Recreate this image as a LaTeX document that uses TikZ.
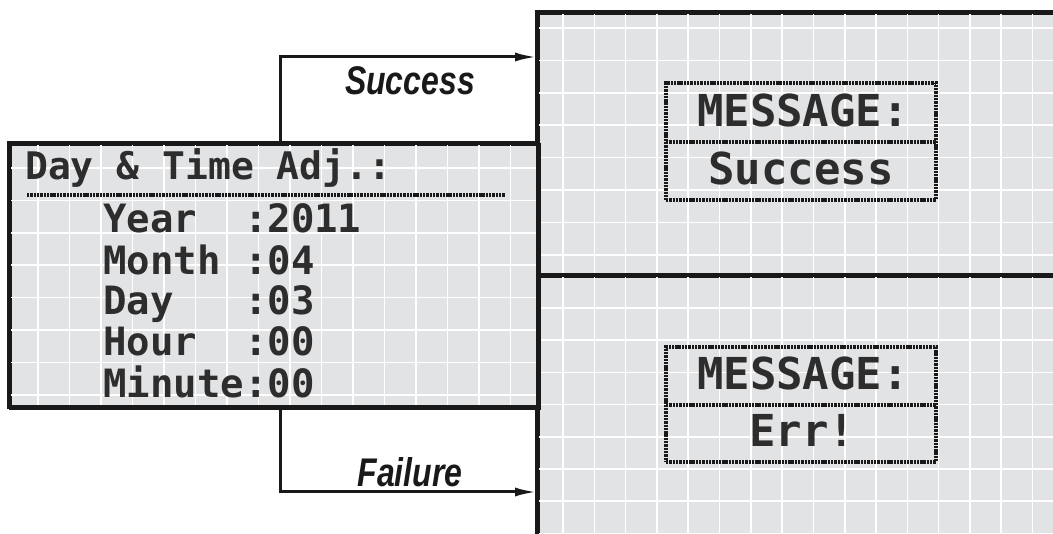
\documentclass[tikz,border=0pt]{standalone}
\usepackage{fontspec}
\usetikzlibrary{arrows.meta}
\newfontfamily\lcdfont{DejaVu Sans Mono}
\newfontfamily\labelfont[FakeStretch=0.8]{Liberation Sans}
\definecolor{lcdbg}{RGB}{226,227,229}
\definecolor{lcdtxt}{RGB}{45,45,45}
\definecolor{ink}{RGB}{25,25,25}
\tikzset{
  panel/.style={draw=ink, line width=3.2pt, fill=lcdbg, inner sep=0pt},
  gridline/.style={white, line width=1.6pt},
  dotline/.style={draw=ink, line width=3.4pt, dash pattern=on 2.4pt off 0.9pt},
  msgbox/.style={dotline, inner sep=0pt, minimum width=270pt},
  lcd/.style={inner sep=0pt, text=lcdtxt, font=\lcdfont\bfseries\fontsize{39}{40}\selectfont},
  lcdbig/.style={inner sep=0pt, text=lcdtxt, font=\lcdfont\bfseries\fontsize{44}{46}\selectfont},
  conn/.style={draw=ink, line width=3pt, -{Latex[length=22pt,width=9pt]}},
  lbl/.style={inner sep=0pt, text=ink, font=\labelfont\bfseries\itshape\fontsize{40}{40}\selectfont}
}
\begin{document}
\begin{tikzpicture}[x=1pt,y=-1pt]
\useasboundingbox (0,0) rectangle (1053,534);
\clip (0,0) rectangle (1053,534);
\fill[white] (0,0) rectangle (1053,534);
% right panels
\node[panel, minimum width=530pt, minimum height=263pt, anchor=north west] (succ) at (537,12) {};
\node[panel, minimum width=530pt, minimum height=280pt, anchor=north west] (fail) at (537,275) {};
\begin{scope}
  \clip (538.5,13.5) rectangle (1060,273.5);
  \foreach \k in {0,...,15} \draw[gridline] (563+31.3*\k,0) -- (563+31.3*\k,280);
  \foreach \k in {0,...,7} \draw[gridline] (530,28+32.4*\k) -- (1060,28+32.4*\k);
\end{scope}
\begin{scope}
  \clip (538.5,276.5) rectangle (1060,540);
  \foreach \k in {0,...,15} \draw[gridline] (563+31.3*\k,270) -- (563+31.3*\k,540);
  \foreach \k in {0,...,7} \draw[gridline] (530,308+32.2*\k) -- (1060,308+32.2*\k);
\end{scope}
\draw[ink, line width=3.2pt] (537,12) -- (1060,12);
\draw[ink, line width=3.2pt] (537,275) -- (1060,275);
\draw[ink, line width=3.2pt] (537,10) -- (537,540);
% left box
\node[panel, minimum width=529pt, minimum height=264pt, anchor=north west] (setup) at (9,143) {};
\begin{scope}
  \clip (10.5,144.5) rectangle (536.5,405.5);
  \foreach \k in {0,...,15} \draw[gridline] (38+31.5*\k,140) -- (38+31.5*\k,410);
  \foreach \k in {0,...,7} \draw[gridline] (5,168+32.4*\k) -- (540,168+32.4*\k);
\end{scope}
\draw[ink, line width=3.2pt] (9,143) rectangle (538,407);
\node[lcd, anchor=base west, font=\lcdfont\bfseries\fontsize{38}{40}\selectfont] (title) at (25,180) {Day \& Time Adj.:};
\draw[dotline] (27,195) -- (505,195);
\node[lcd, anchor=base west] (year) at (103,233) {Year~~:2011};
\node[lcd, anchor=base west] (month) at (103,275) {Month~:04};
\node[lcd, anchor=base west] (day) at (103,315) {Day~~~:03};
\node[lcd, anchor=base west] (hour) at (103,356) {Hour~~:00};
\node[lcd, anchor=base west] (minute) at (103,398) {Minute:00};
% message boxes
\node[msgbox, minimum height=117pt] (msg1) at (801,141.5) {};
\draw[dotline] (666,142) -- (936,142);
\node[lcdbig, anchor=base] (m1a) at (803,127) {MESSAGE:};
\node[lcdbig, anchor=base] (m1b) at (801,185) {Success};
\node[msgbox, minimum height=115pt] (msg2) at (801,404.5) {};
\draw[dotline] (666,405) -- (936,405);
\node[lcdbig, anchor=base] (m2a) at (803,390) {MESSAGE:};
\node[lcdbig, anchor=base] (m2b) at (802,447) {Err!};
% connectors
\coordinate (sbend) at (280,57);
\coordinate (fbend) at (280,492);
\draw[conn] (setup.north -| sbend) -- (sbend) -- (succ.west |- sbend);
\draw[conn] (setup.south -| fbend) -- (fbend) -- (fail.west |- fbend);
\node[lbl, anchor=base] (slbl) at (410,95) {Success};
\node[lbl, anchor=base] (flbl) at (410,487) {Failure};
\end{tikzpicture}
\end{document}
